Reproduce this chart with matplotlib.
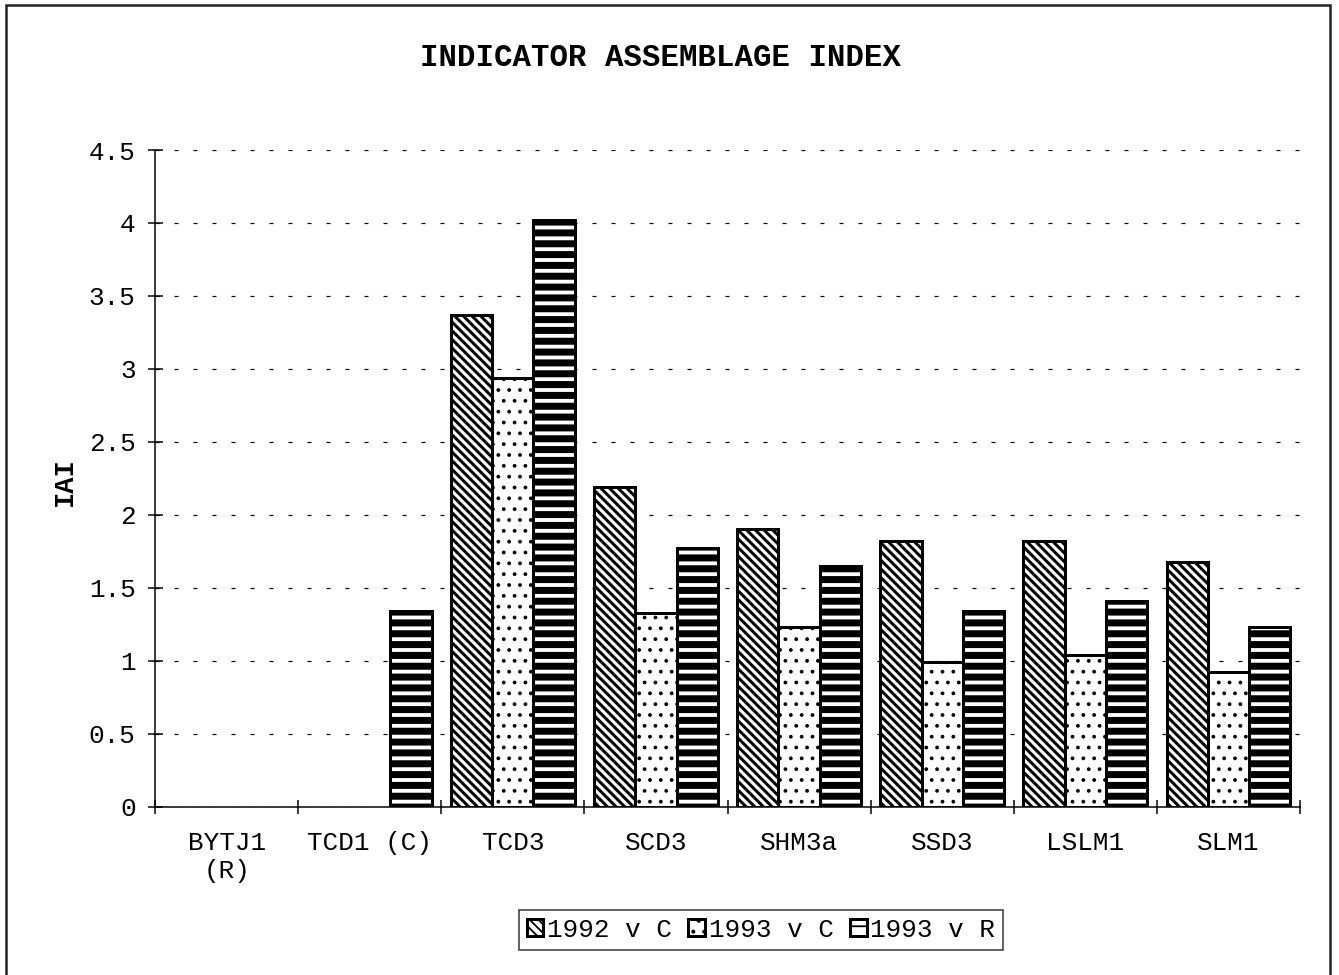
import numpy as np
import matplotlib as mpl
mpl.use('Agg')
import matplotlib.pyplot as plt
from matplotlib.patches import Rectangle
from matplotlib.ticker import FixedLocator, FuncFormatter

plt.rcParams['font.family'] = ['Liberation Mono', 'DejaVu Sans Mono']

# site labels and IAI values (nan = no data for that site)
sites = ['BYTJ1\n(R)', 'TCD1 (C)', 'TCD3', 'SCD3', 'SHM3a', 'SSD3', 'LSLM1', 'SLM1']
iai_1992_c = [np.nan, np.nan, 3.37, 2.19, 1.90, 1.82, 1.82, 1.68]
iai_1993_c = [np.nan, np.nan, 2.94, 1.33, 1.23, 0.99, 1.04, 0.92]
iai_1993_r = [np.nan, 1.34, 4.02, 1.77, 1.65, 1.34, 1.41, 1.23]
series_names = ['1992 v C', '1993 v C', '1993 v R']
y_ticks = [0, 0.5, 1, 1.5, 2, 2.5, 3, 3.5, 4, 4.5]

DPI = 130
W, H = 1339, 975
px = 72.0 / DPI  # one pixel in points

fig = plt.figure(figsize=(W / DPI, H / DPI), dpi=DPI)
ax = fig.add_axes([155 / W, 1 - 806.7 / H, (1300 - 155) / W, (806.7 - 150) / H])

x = np.arange(len(sites))
bw = 0.288
# hatch pattern and hatch line width (px) for each series
styles = [('\\' * 5, 3.0), ('..', 1.6), ('--', 7.0)]
series = [iai_1992_c, iai_1993_c, iai_1993_r]
handles = []
for i, (vals, (hatch, hlw)) in enumerate(zip(series, styles)):
    bars = ax.bar(x + (i - 1) * bw, vals, width=bw, color='white',
                  edgecolor='black', linewidth=3 * px, hatch=hatch,
                  label=series_names[i], zorder=3)
    for b in bars:
        if hasattr(b, 'set_hatch_linewidth'):
            b.set_hatch_linewidth(hlw * px)
    handles.append(bars)

ax.set_xlim(-0.5, len(sites) - 0.5)
ax.set_ylim(0, 4.5)

ax.spines['top'].set_visible(False)
ax.spines['right'].set_visible(False)
ax.spines['left'].set_linewidth(1.5 * px)
ax.spines['bottom'].set_linewidth(1.5 * px)

ax.yaxis.set_major_locator(FixedLocator(y_ticks))
ax.yaxis.set_major_formatter(FuncFormatter(lambda v, p: '%g' % v))
ax.tick_params(axis='y', direction='inout', length=15 * px, width=1.5 * px,
               pad=6.6, labelsize=14.4)

ax.set_xticks(x)
ax.set_xticklabels(sites, linespacing=1.2)
ax.set_xticks(np.arange(-0.5, len(sites)), minor=True)
ax.tick_params(axis='x', which='major', length=0, pad=13.5, labelsize=14.4)
ax.tick_params(axis='x', which='minor', direction='inout', length=14 * px,
               width=1.5 * px)

ax.set_axisbelow(True)
ax.yaxis.grid(True, color='black', linewidth=1.2 * px,
              linestyle=(0, (4 / 1.2, 15 / 1.2)))
ax.xaxis.grid(False)

fig.text(661 / W, 1 - 58 / H, 'INDICATOR ASSEMBLAGE INDEX', ha='center',
         va='center', fontsize=17, fontweight='bold')
fig.text(65 / W, 1 - 482 / H, 'IAI', ha='center', va='center', rotation=90,
         fontsize=15, fontweight='bold')

leg = fig.legend(handles=handles, labels=series_names, loc='center',
                 bbox_to_anchor=(761 / W, 1 - 930 / H), ncol=3, fontsize=14.4,
                 handlelength=0.62, handleheight=0.62, handletextpad=0.15,
                 columnspacing=0.65, borderpad=0.3, borderaxespad=0,
                 fancybox=False, shadow=False, frameon=True)
leg.get_frame().set_edgecolor('black')
leg.get_frame().set_linewidth(1.5 * px)

# outer chart frame
fig.add_artist(Rectangle((6 / W, -0.02), (1330 - 6) / W, 1 - 5 / H + 0.02,
                         transform=fig.transFigure, fill=False,
                         edgecolor='#222222', linewidth=2.5 * px))

fig.savefig('out.png', dpi=DPI)
